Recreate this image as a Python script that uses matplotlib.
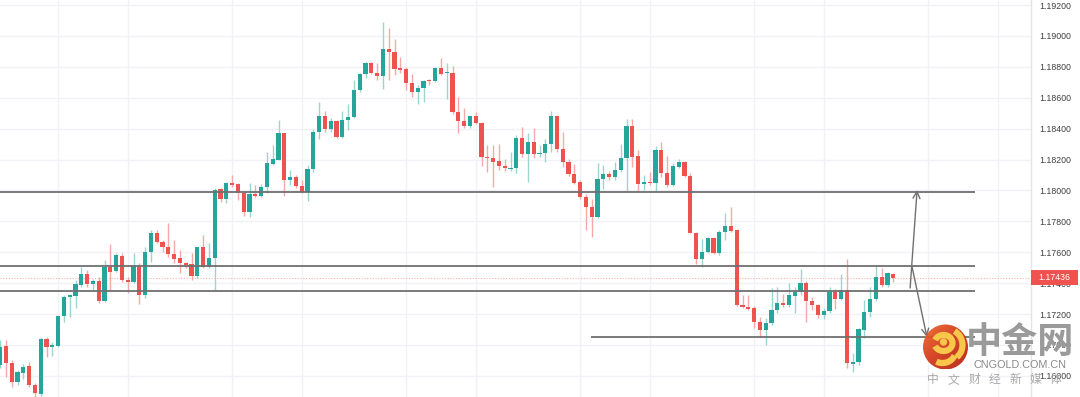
import matplotlib
matplotlib.use("Agg")
import matplotlib.pyplot as plt
import matplotlib.transforms as mtransforms
from matplotlib.patches import Rectangle, Circle, Arc
from matplotlib.colors import LinearSegmentedColormap
import numpy as np

# ---------------- data (OHLC) ----------------
opens = [
    1.16870, 1.16993, 1.16885, 1.16762, 1.16820, 1.16864, 1.16741, 1.16682, 1.17036, 1.16989,
    1.16993, 1.17187, 1.17308, 1.17319, 1.17388, 1.17459, 1.17394, 1.17414, 1.17284, 1.17506,
    1.17480, 1.17577, 1.17420, 1.17409, 1.17513, 1.17323, 1.17603, 1.17726, 1.17668, 1.17636,
    1.17588, 1.17561, 1.17528, 1.17522, 1.17448, 1.17632, 1.17506, 1.17565, 1.18007, 1.17944,
    1.18046, 1.18040, 1.17985, 1.17862, 1.17975, 1.17964, 1.18020, 1.18171, 1.18197, 1.18370,
    1.18067, 1.18089, 1.18031, 1.17992, 1.18139, 1.18376, 1.18482, 1.18397, 1.18451, 1.18344,
    1.18456, 1.18473, 1.18650, 1.18751, 1.18823, 1.18762, 1.18742, 1.18913, 1.18898, 1.18790,
    1.18786, 1.18693, 1.18639, 1.18661, 1.18715, 1.18710, 1.18790, 1.18758, 1.18762, 1.18506,
    1.18451, 1.18419, 1.18482, 1.18438, 1.18218, 1.18212, 1.18190, 1.18160, 1.18141, 1.18143,
    1.18337, 1.18236, 1.18315, 1.18236, 1.18240, 1.18300, 1.18482, 1.18266, 1.18186, 1.18106,
    1.18056, 1.17959, 1.17895, 1.17826, 1.18072, 1.18106, 1.18085, 1.18132, 1.18212, 1.18417,
    1.18223, 1.18042, 1.18054, 1.18050, 1.18262, 1.18115, 1.18035, 1.18153, 1.18186, 1.18095,
    1.17726, 1.17554, 1.17599, 1.17690, 1.17593, 1.17733, 1.17772, 1.17744, 1.17258, 1.17247,
    1.17237, 1.17150, 1.17097, 1.17144, 1.17226, 1.17269, 1.17258, 1.17317, 1.17341, 1.17399,
    1.17286, 1.17258, 1.17194, 1.17220, 1.17345, 1.17295, 1.17355, 1.16877, 1.16888, 1.17097,
    1.17211, 1.17295, 1.17442, 1.17388, 1.17459,
]
highs = [
    1.17032, 1.17032, 1.16902, 1.16838, 1.16877, 1.16891, 1.16756, 1.17053, 1.17049, 1.17021,
    1.17194, 1.17323, 1.17330, 1.17420, 1.17506, 1.17485, 1.17425, 1.17438, 1.17550, 1.17653,
    1.17593, 1.17593, 1.17442, 1.17595, 1.17530, 1.17636, 1.17744, 1.17744, 1.17679, 1.17791,
    1.17679, 1.17614, 1.17539, 1.17593, 1.17636, 1.17711, 1.17662, 1.18014, 1.18014, 1.18056,
    1.18100, 1.18050, 1.17992, 1.18046, 1.18035, 1.18042, 1.18251, 1.18294, 1.18456, 1.18374,
    1.18132, 1.18100, 1.18067, 1.18164, 1.18397, 1.18574, 1.18514, 1.18467, 1.18456, 1.18516,
    1.18559, 1.18715, 1.18758, 1.18833, 1.18833, 1.18827, 1.19092, 1.19049, 1.18978, 1.18862,
    1.18801, 1.18753, 1.18682, 1.18715, 1.18719, 1.18801, 1.18855, 1.18827, 1.18805, 1.18603,
    1.18531, 1.18488, 1.18509, 1.18445, 1.18294, 1.18294, 1.18300, 1.18201, 1.18251, 1.18359,
    1.18412, 1.18370, 1.18402, 1.18294, 1.18331, 1.18516, 1.18488, 1.18380, 1.18201, 1.18169,
    1.18067, 1.17977, 1.17942, 1.18175, 1.18164, 1.18128, 1.18186, 1.18300, 1.18462, 1.18462,
    1.18262, 1.18100, 1.18121, 1.18287, 1.18315, 1.18223, 1.18175, 1.18201, 1.18192, 1.18115,
    1.17733, 1.17686, 1.17697, 1.17700, 1.17744, 1.17852, 1.17891, 1.17748, 1.17323, 1.17323,
    1.17252, 1.17183, 1.17172, 1.17366, 1.17377, 1.17330, 1.17403, 1.17377, 1.17489, 1.17416,
    1.17308, 1.17265, 1.17237, 1.17377, 1.17360, 1.17459, 1.17554, 1.16950, 1.17108, 1.17291,
    1.17377, 1.17511, 1.17496, 1.17474, 1.17464,
]
lows = [
    1.16851, 1.16792, 1.16730, 1.16741, 1.16779, 1.16730, 1.16663, 1.16663, 1.16924, 1.16928,
    1.16989, 1.17150, 1.17183, 1.17237, 1.17377, 1.17377, 1.17355, 1.17269, 1.17280, 1.17355,
    1.17474, 1.17409, 1.17338, 1.17401, 1.17265, 1.17302, 1.17539, 1.17658, 1.17603, 1.17571,
    1.17528, 1.17464, 1.17496, 1.17420, 1.17431, 1.17496, 1.17496, 1.17355, 1.17927, 1.17920,
    1.18024, 1.17938, 1.17834, 1.17826, 1.17959, 1.17959, 1.17981, 1.18164, 1.18197, 1.17964,
    1.18035, 1.18014, 1.17981, 1.17933, 1.18121, 1.18331, 1.18380, 1.18380, 1.18340, 1.18340,
    1.18391, 1.18467, 1.18639, 1.18726, 1.18753, 1.18715, 1.18654, 1.18715, 1.18747, 1.18758,
    1.18650, 1.18603, 1.18559, 1.18574, 1.18682, 1.18704, 1.18747, 1.18592, 1.18495, 1.18374,
    1.18402, 1.18402, 1.18430, 1.18160, 1.18117, 1.18020, 1.18132, 1.18128, 1.18128, 1.18111,
    1.18218, 1.18056, 1.18208, 1.18218, 1.18186, 1.18251, 1.18251, 1.18153, 1.18093, 1.18042,
    1.17942, 1.17744, 1.17697, 1.17820, 1.18007, 1.18067, 1.18067, 1.18121, 1.17998, 1.18153,
    1.17998, 1.18003, 1.18035, 1.17992, 1.18089, 1.18024, 1.18031, 1.18143, 1.18089, 1.17722,
    1.17524, 1.17506, 1.17593, 1.17588, 1.17582, 1.17679, 1.17733, 1.17252, 1.17237, 1.17226,
    1.17108, 1.17053, 1.17000, 1.17129, 1.17205, 1.17244, 1.17247, 1.17209, 1.17323, 1.17150,
    1.17226, 1.17172, 1.17166, 1.17205, 1.17231, 1.17291, 1.16849, 1.16827, 1.16870, 1.17043,
    1.17183, 1.17286, 1.17377, 1.17377, 1.17409,
]
closes = [
    1.16987, 1.16883, 1.16760, 1.16827, 1.16859, 1.16741, 1.16687, 1.17036, 1.16989, 1.16999,
    1.17187, 1.17308, 1.17323, 1.17392, 1.17459, 1.17394, 1.17416, 1.17286, 1.17506, 1.17474,
    1.17582, 1.17420, 1.17407, 1.17513, 1.17323, 1.17603, 1.17726, 1.17668, 1.17636, 1.17588,
    1.17556, 1.17528, 1.17517, 1.17448, 1.17632, 1.17506, 1.17565, 1.18003, 1.17942, 1.18046,
    1.18035, 1.17985, 1.17862, 1.17975, 1.17964, 1.18020, 1.18175, 1.18201, 1.18370, 1.18067,
    1.18089, 1.18031, 1.17992, 1.18139, 1.18376, 1.18482, 1.18397, 1.18451, 1.18344, 1.18456,
    1.18473, 1.18650, 1.18751, 1.18823, 1.18762, 1.18742, 1.18913, 1.18894, 1.18786, 1.18779,
    1.18693, 1.18639, 1.18661, 1.18710, 1.18708, 1.18790, 1.18753, 1.18764, 1.18506, 1.18451,
    1.18419, 1.18482, 1.18438, 1.18218, 1.18212, 1.18186, 1.18158, 1.18143, 1.18147, 1.18337,
    1.18236, 1.18315, 1.18236, 1.18244, 1.18300, 1.18482, 1.18266, 1.18182, 1.18104, 1.18050,
    1.17955, 1.17895, 1.17826, 1.18072, 1.18106, 1.18089, 1.18132, 1.18212, 1.18417, 1.18218,
    1.18042, 1.18054, 1.18046, 1.18262, 1.18115, 1.18035, 1.18158, 1.18186, 1.18095, 1.17726,
    1.17554, 1.17599, 1.17690, 1.17593, 1.17733, 1.17772, 1.17739, 1.17258, 1.17247, 1.17233,
    1.17150, 1.17097, 1.17144, 1.17226, 1.17269, 1.17258, 1.17323, 1.17345, 1.17399, 1.17286,
    1.17258, 1.17194, 1.17222, 1.17345, 1.17295, 1.17355, 1.16881, 1.16890, 1.17101, 1.17215,
    1.17295, 1.17442, 1.17388, 1.17464, 1.17436,
]

price_ticks = [1.16800, 1.17000, 1.17200, 1.17400, 1.17600, 1.17800,
               1.18000, 1.18200, 1.18400, 1.18600, 1.18800, 1.19000, 1.19200]
time_grid = [10, 22, 40, 52, 70, 82, 100, 112, 130, 142, 160, 172]

# drawn levels (horizontal lines) and projection arrows
level_lines = [1.17990, 1.17511, 1.17351]
support_line = 1.17049
support_start = 101.9
line_end = 168.1
arrow_up = ((156.9, 1.17368), (158.1, 1.18003))
arrow_down = ((157.2, 1.17511), (159.8, 1.17050))

last_price = closes[-1]

# ---------------- figure ----------------
W, H, DPI = 1080, 397, 100
fig = plt.figure(figsize=(W / DPI, H / DPI), dpi=DPI, facecolor="white")
plot_right = 1031
ax = fig.add_axes([0, 0, plot_right / W, 1])
ax.set_facecolor("white")

ax.set_ylim(1.166628, 1.192324)
ax.set_xlim(-0.02, 177.74)

UP, DOWN = "#26a69a", "#ef5350"
UP_W, DOWN_W = "#9cd5cf", "#f6aaa8"

x = np.arange(len(closes))
o = np.array(opens); c = np.array(closes); h = np.array(highs); l = np.array(lows)
up = c >= o
wick_cols = np.where(up, UP_W, DOWN_W)
body_cols = np.where(up, UP, DOWN)

ax.vlines(x, l, h, colors=wick_cols, linewidth=1.0, zorder=3)
bottom = np.minimum(o, c)
height = np.maximum(np.abs(c - o), 0.00005)
ax.bar(x, height, bottom=bottom, width=0.74, color=body_cols, linewidth=0, zorder=4)

# grid
for yv in price_ticks:
    ax.axhline(yv, color="#f0f2f7", lw=1.0, zorder=0)
for xv in time_grid:
    ax.axvline(xv, color="#f0f2f7", lw=1.0, zorder=0)

# drawn horizontal levels
for lv in level_lines:
    ax.hlines(lv, -0.02, line_end, color="#6f6f6f", lw=1.3, zorder=5)
ax.hlines(support_line, support_start, line_end, color="#6f6f6f", lw=1.3, zorder=5)

# current price dotted line
ax.axhline(last_price, color="#ef5350", lw=0.8, ls=(0, (1, 1.5)), alpha=0.45, zorder=2)

# arrows
for (x0, y0), (x1, y1) in (arrow_up, arrow_down):
    ax.annotate("", xy=(x1, y1), xytext=(x0, y0),
                arrowprops=dict(arrowstyle="->,head_length=0.5,head_width=0.25",
                                color="#707070", lw=1.0, shrinkA=0, shrinkB=0),
                zorder=6)

# axis styling
for s in ax.spines.values():
    s.set_visible(False)
ax.set_xticks([])
ax.yaxis.tick_right()
ax.set_yticks(price_ticks)
ax.set_yticklabels([f"{v:.5f}" for v in price_ticks])
ax.tick_params(axis="y", length=0, pad=5.8, labelsize=6.3, labelcolor="#404040")
for t in ax.get_yticklabels():
    t.set_fontfamily("Liberation Sans")

# axis separator
ax.axvline(177.74, color="#e3e5ea", lw=1.0, clip_on=False)

# price label box
blend = mtransforms.blended_transform_factory(ax.transAxes, ax.transData)
box_h = 15 / 15450
ax.add_patch(Rectangle((1.0, last_price - box_h / 2), 47 / plot_right, box_h,
                       transform=blend, facecolor="#f0524f", edgecolor="none",
                       clip_on=False, zorder=7))
ax.text(1.0 + 23.5 / plot_right, last_price, f"{last_price:.5f}", transform=blend,
        ha="center", va="center", color="white", fontsize=6.3,
        fontfamily="Liberation Sans", clip_on=False, zorder=8)

# ---------------- watermark overlay ----------------
ov = fig.add_axes([0, 0, 1, 1], zorder=10)
ov.set_xlim(0, W); ov.set_ylim(H, 0); ov.axis("off")
ov.patch.set_alpha(0)

cx, cy, r = 945.5, 347, 22.5
yy, xx = np.mgrid[-1:1:120j, -1:1:120j]
grad = np.clip(0.55 + 0.35 * (xx + yy) / 2, 0, 1)
cm = LinearSegmentedColormap.from_list("wm", ["#ef6a2e", "#d23a1c", "#b52414"])
im = ov.imshow(grad, cmap=cm, extent=(cx - r, cx + r, cy + r, cy - r), zorder=1, alpha=0.95)
clip = Circle((cx, cy), r, transform=ov.transData)
im.set_clip_path(clip)
yel = "#f7c64a"
ov.add_patch(Arc((cx - 2, cy - 4), 18, 16, theta1=200, theta2=520, color=yel, lw=4.5, zorder=2))
ov.add_patch(Circle((cx - 2, cy - 5), 3.0, color=yel, zorder=2))
ov.add_patch(Arc((cx + 1, cy - 2), 32, 32, theta1=300, theta2=50, color=yel, lw=4.5, zorder=2))
ov.add_patch(Arc((cx - 3, cy + 4), 26, 24, theta1=20, theta2=120, color=yel, lw=4.5, zorder=2))

ov.text(1020, 343, "中金网", fontsize=26, color="#9a9a9a", fontweight="bold",
        ha="center", va="center", fontfamily=["Noto Sans CJK SC", "DejaVu Sans"], zorder=3)
ov.text(1020, 364.5, "CNGOLD.COM.CN", fontsize=7.8, color="#8a8a8a",
        ha="center", va="center", fontfamily="Liberation Sans", zorder=3)
slogan = "中文财经新媒体"
for i, ch in enumerate(slogan):
    ov.text(933 + i * 20.5, 379.5, ch, fontsize=8.5, color="#a8a8a8",
            ha="center", va="center", fontfamily=["Noto Sans CJK SC", "DejaVu Sans"], zorder=3)

fig.savefig("out.png", dpi=DPI, facecolor="white")
